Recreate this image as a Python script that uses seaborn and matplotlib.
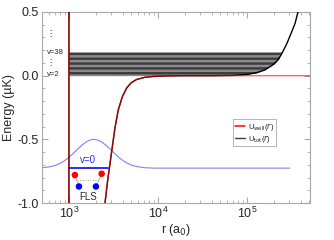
import numpy as np
import matplotlib
matplotlib.use('Agg')
import matplotlib.pyplot as plt
from matplotlib.lines import Line2D
from matplotlib.ticker import MultipleLocator, LogLocator, NullFormatter
import seaborn as sns

# ── data ──
# well potential (hard wall at 1000 a0, attractive tail), energies in uK
r_well = [1000, 1000, 2300, 2535, 2723, 2891, 3069, 3289, 3581, 3981, 4467,
          5012, 5754, 7079, 8913, 12589, 19953, 70000, 5.2e5]
E_well = [1.0, -2.0, -2.0, -1.006, -0.823, -0.691, -0.561, -0.41, -0.27, -0.165,
          -0.095, -0.055, -0.030, -0.013, -0.006, -0.002, 0.0, 0.0, 0.0]

# total potential = well + trap
r_tot = r_well[:17] + [39811, 70795, 1e5, 125893, 158489, 199526, 223872,
                       251189, 281838, 316228, 346737, 374117, 416869]
E_tot = E_well[:17] + [0.0, 0.002, 0.01, 0.022, 0.045, 0.09, 0.125,
                       0.185, 0.255, 0.34, 0.41, 0.5, 0.63]

# vibrational levels v=2..38 (band) and the darker stripes inside it
band_lo, band_hi = 0.0, 0.185
stripe_E = [0.175, 0.137, 0.099, 0.061, 0.023]
stripe_half = 0.0095

# v=0 wavefunction (log10 r, energy)
wf_logr = [2.70, 2.75, 2.80, 2.85, 2.90, 2.95, 3.00, 3.05, 3.10, 3.15, 3.20, 3.25,
           3.28, 3.31, 3.36, 3.41, 3.46, 3.51, 3.56, 3.61, 3.66, 3.71, 3.76,
           3.81, 3.86, 3.96, 5.48]
wf_E = [-0.723, -0.719, -0.713, -0.704, -0.689, -0.668, -0.641, -0.609, -0.575,
        -0.543, -0.517, -0.5025, -0.500, -0.5025, -0.517, -0.543, -0.575, -0.609,
        -0.641, -0.668, -0.689, -0.704, -0.713, -0.719, -0.723, -0.726, -0.726]

v0_r = [1000, 2760]
v0_E = [-0.726, -0.726]

# FLS sketch: red and blue dots
red_r = [1167, 2330]
red_E = [-0.78, -0.77]
blue_r = [1295, 2010]
blue_E = [-0.870, -0.870]

sns.set_theme(style='ticks')
plt.rcParams['font.family'] = ['Liberation Sans', 'DejaVu Sans']
plt.rcParams['axes.unicode_minus'] = False

fig = plt.figure(figsize=(3.34, 2.40), dpi=100)
ax = fig.add_axes([0.1257, 0.154, 0.8023, 0.796])

# ── band of levels ──
xb = np.array(r_tot[1:], dtype=float)
Ub = np.array(E_tot[1:], dtype=float)
ax.fill_between(xb, np.maximum(Ub, band_lo), band_hi, where=Ub < band_hi + 0.01,
                interpolate=True, color='#8c8c8c', lw=0, zorder=1)
for e in stripe_E:
    lo, hi = e - stripe_half, e + stripe_half
    ax.fill_between(xb, np.maximum(Ub, lo), hi, where=Ub < hi + 0.01,
                    interpolate=True, color='#3c3c3c', lw=0, zorder=1)

# ── wavefunction and v=0 level ──
sns.lineplot(x=np.power(10.0, wf_logr), y=wf_E, ax=ax, color='#8080ff',
             lw=0.8, sort=False, estimator=None, zorder=2)
sns.lineplot(x=v0_r, y=v0_E, ax=ax, color='#2a2aff', lw=1.4,
             sort=False, estimator=None, zorder=3)

# ── potentials ──
sns.lineplot(x=r_tot, y=E_tot, ax=ax, color='black', lw=1.0,
             sort=False, estimator=None, zorder=4)
sns.lineplot(x=r_well, y=E_well, ax=ax, color='#ff0000', lw=1.0, alpha=0.6,
             sort=False, estimator=None, zorder=5)

# ── FLS sketch ──
ax.plot([red_r[0], blue_r[0]], [red_E[0], blue_E[0]], color='#999999', lw=0.5, zorder=5)
ax.plot([red_r[1], blue_r[1]], [red_E[1], blue_E[1]], color='#999999', lw=0.5, zorder=5)
ax.plot([1230, 2200], [-0.822, -0.822], color='#999999', lw=0.7, ls=':', zorder=5)
sns.scatterplot(x=red_r, y=red_E, ax=ax, color='#ff0000', s=22, edgecolor='none', zorder=6)
sns.scatterplot(x=blue_r, y=blue_E, ax=ax, color='#0000ff', s=22, edgecolor='none', zorder=6)

ax.text(1634, -0.955, 'FLS', fontsize=7, ha='center', va='center')
ax.text(1650, -0.665, 'v=0', fontsize=7, color='#2a2aff', ha='center', va='center')
ax.text(560, 0.185, 'v=38', fontsize=5.5, ha='left', va='center')
ax.text(560, 0.01, 'v=2', fontsize=5.5, ha='left', va='center')
ax.text(620, 0.33, '⋮', fontsize=6, ha='center', va='center', family='DejaVu Sans')
ax.text(620, 0.10, '⋮', fontsize=6, ha='center', va='center', family='DejaVu Sans')

# ── axes ──
ax.set_xscale('log')
ax.set_xlim(498, 5.1e5)
ax.set_ylim(-1.0, 0.5)
ax.yaxis.set_major_locator(MultipleLocator(0.5))
ax.yaxis.set_minor_locator(MultipleLocator(0.1))
ax.yaxis.set_major_formatter(matplotlib.ticker.FormatStrFormatter('%.1f'))
ax.xaxis.set_major_locator(LogLocator(base=10))
ax.xaxis.set_minor_locator(LogLocator(base=10, subs=np.arange(2, 10)))
ax.xaxis.set_minor_formatter(NullFormatter())
ax.set_xlabel('r (a$_0$)', fontsize=9, labelpad=1)
ax.set_ylabel('Energy (µK)', fontsize=9, labelpad=2)

for s in ax.spines.values():
    s.set_color('#a8a8a8')
    s.set_linewidth(0.8)
ax.tick_params(which='both', direction='in', top=True, right=True,
               color='#a8a8a8', labelsize=9, pad=2)
ax.tick_params(which='major', length=4, width=0.8)
ax.tick_params(which='minor', length=2, width=0.6)

handles = [Line2D([], [], color='#ff0000', lw=1.1),
           Line2D([], [], color='#404040', lw=1.0)]
labels = [r'U$_{\mathrm{well}}$($r$)', r'U$_{\mathrm{tot}}$($r$)']
leg = ax.legend(handles, labels, loc='upper left', bbox_to_anchor=(0.713, 0.44),
                fontsize=5.5, frameon=True, fancybox=False, framealpha=1,
                edgecolor='#a8a8a8', handlelength=1.3, handletextpad=0.5,
                borderpad=0.2, labelspacing=0.0, borderaxespad=0)
leg.get_frame().set_linewidth(0.6)

fig.savefig('out.png', dpi=100)
